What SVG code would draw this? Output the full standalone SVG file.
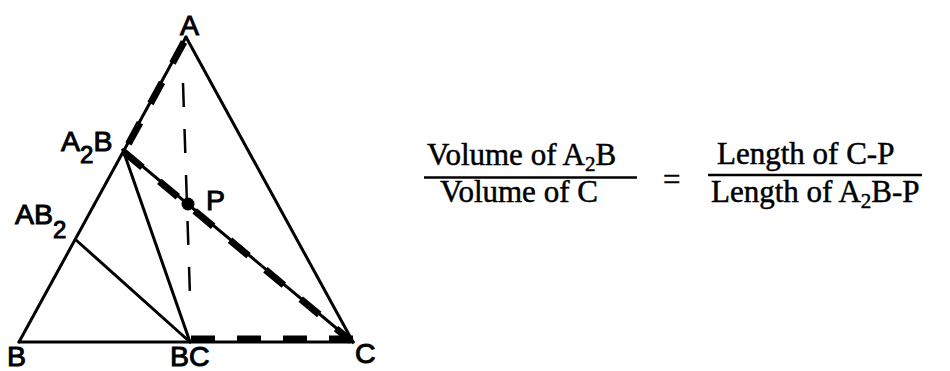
<svg xmlns="http://www.w3.org/2000/svg" width="950" height="371" viewBox="0 0 950 371">
<style>
.ln{stroke:#000;stroke-width:3;fill:none;stroke-linecap:round}
.thin{stroke:#000;stroke-width:2.5;fill:none;stroke-dasharray:24 22}
.thick{stroke:#000;stroke-width:7;fill:none;stroke-dasharray:24 22}
.lab{font-family:"Liberation Sans",Arial,sans-serif;font-size:28.5px;fill:#000;stroke:#000;stroke-width:1}
.sub{font-size:24px}
.eq{font-family:"Liberation Serif","Times New Roman",serif;font-size:31px;fill:#000;stroke:#000;stroke-width:0.5}
.esub{font-size:21px}
.bar{stroke:#000;stroke-width:2.5}
</style>
<rect width="950" height="371" fill="#fff"/>
<g id="connectors">
<line class="ln" x1="186" y1="37" x2="19" y2="342"/>
<line class="ln" x1="186" y1="37" x2="353" y2="342"/>
<line class="ln" x1="19" y1="342" x2="353" y2="342"/>
<line class="ln" x1="76" y1="240" x2="190" y2="342"/>
<line class="ln" x1="123" y1="150" x2="190" y2="342"/>
<line class="ln" x1="123" y1="150" x2="353" y2="342"/>
<line class="thin" x1="183" y1="83" x2="190" y2="296"/>
<line class="thick" x1="184" y1="42" x2="124" y2="152"/>
<line class="thick" x1="124" y1="152" x2="351" y2="341"/>
<line class="thick" x1="191" y1="339" x2="355" y2="339"/>
</g>
<g id="node-A"><text class="lab" x="180" y="35">A</text></g>
<g id="node-A2B"><text class="lab" x="61" y="151">A<tspan class="sub" dy="12">2</tspan><tspan dy="-12">B</tspan></text></g>
<g id="node-AB2"><text class="lab" x="15" y="224">AB<tspan class="sub" dy="14">2</tspan></text></g>
<g id="node-P"><circle cx="188" cy="204" r="6.5" fill="#000"/><text class="lab" x="206" y="210">P</text></g>
<g id="node-B"><text class="lab" x="7" y="366">B</text></g>
<g id="node-BC"><text class="lab" x="170" y="366">BC</text></g>
<g id="node-C"><text class="lab" x="355" y="363">C</text></g>
<g id="formula">
<text class="eq" x="427" y="165">Volume of A<tspan class="esub" dy="6">2</tspan><tspan dy="-6">B</tspan></text>
<line class="bar" x1="424" y1="177.5" x2="637" y2="177.5"/>
<text class="eq" x="440" y="202">Volume of C</text>
<text class="eq" x="663" y="190">=</text>
<text class="eq" x="717" y="164">Length of C-P</text>
<line class="bar" x1="708" y1="175" x2="922" y2="175"/>
<text class="eq" x="711" y="202">Length of A<tspan class="esub" dy="6">2</tspan><tspan dy="-6">B-P</tspan></text>
</g>
</svg>
